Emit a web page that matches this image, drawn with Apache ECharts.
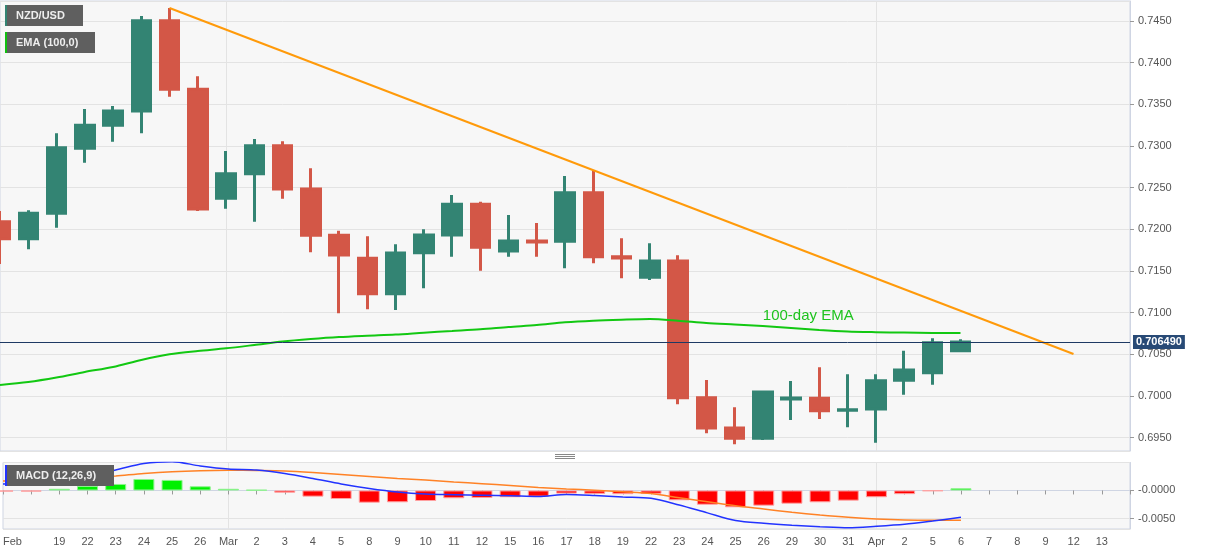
<!DOCTYPE html>
<html>
<head>
<meta charset="utf-8">
<script src="https://cdn.jsdelivr.net/npm/echarts@6/dist/echarts.min.js"></script>
<style>
html,body{margin:0;padding:0;background:#fff;}
#chart{width:1207px;height:555px;}
</style>
</head>
<body>
<div id="chart"></div>
<script>
// ---- data ----
const xLabels = ['Feb','','19','22','23','24','25','26','Mar','2','3','4','5','8','9','10','11','12','15','16','17','18','19','22','23','24','25','26','29','30','31','Apr','2','5','6','7','8','9','12','13',''];

const open  = [0.72092,0.71888,0.72192,0.72972,0.73248,0.73420,0.74504,0.73680,0.72372,0.72668,0.73004,0.72484,0.71928,0.71652,0.71228,0.71720,0.71932,0.72300,0.71740,0.71860,0.71856,0.72440,0.71672,0.71424,0.71620,0.69980,0.69616,0.69492,0.69964,0.69972,0.69828,0.69844,0.70188,0.70280,0.70544];
const close = [0.71888,0.72192,0.72980,0.73248,0.73420,0.74504,0.73680,0.72244,0.72668,0.73004,0.72484,0.71928,0.71692,0.71228,0.71716,0.71932,0.72300,0.71784,0.71860,0.71848,0.72440,0.71672,0.71656,0.71620,0.69980,0.69616,0.69492,0.70048,0.69976,0.69824,0.69836,0.70184,0.70312,0.70640,0.70649];
const low   = [0.71584,0.71760,0.72020,0.72800,0.73052,0.73152,0.73592,0.72220,0.72248,0.72092,0.72368,0.71724,0.70992,0.71040,0.71032,0.71292,0.71672,0.71504,0.71672,0.71672,0.71532,0.71592,0.71412,0.71392,0.69900,0.69552,0.69420,0.69472,0.69712,0.69724,0.69624,0.69440,0.70016,0.70136,0.70544];
const high  = [0.72220,0.72228,0.73152,0.73444,0.73480,0.74560,0.74656,0.73836,0.72940,0.73084,0.73056,0.72732,0.71984,0.71916,0.71820,0.72000,0.72412,0.72332,0.72172,0.72076,0.72640,0.72704,0.71892,0.71832,0.71688,0.70192,0.69864,0.70048,0.70180,0.70344,0.70260,0.70260,0.70544,0.70692,0.70680];

const ema100 = [0.70132,0.70168,0.70222,0.70288,0.70348,0.70432,0.70500,0.70540,0.70572,0.70612,0.70654,0.70684,0.70708,0.70724,0.70738,0.70760,0.70780,0.70800,0.70828,0.70852,0.70884,0.70904,0.70916,0.70924,0.70904,0.70876,0.70858,0.70840,0.70816,0.70792,0.70774,0.70766,0.70761,0.70757,0.70756];

const trendIdx = [6, 38];
const trendVal = [0.74656, 0.70504];

const lastPrice = 0.70649;
const emaLabelIdx = 29;

const macdLine   = [0.00116,0.00134,0.00188,0.00259,0.00366,0.00482,0.00514,0.00438,0.00384,0.00366,0.00304,0.00214,0.00116,0.00036,-0.00027,-0.00063,-0.00075,-0.00084,-0.00093,-0.00107,-0.00071,-0.00089,-0.00116,-0.00139,-0.00259,-0.00400,-0.00536,-0.00586,-0.00621,-0.00646,-0.00664,-0.00639,-0.00604,-0.00545,-0.00479];
const signalLine = [0.00170,0.00179,0.00196,0.00223,0.00259,0.00304,0.00336,0.00354,0.00361,0.00357,0.00348,0.00321,0.00286,0.00250,0.00214,0.00188,0.00152,0.00120,0.00089,0.00054,0.00027,0.00004,-0.00023,-0.00054,-0.00129,-0.00200,-0.00271,-0.00330,-0.00389,-0.00438,-0.00479,-0.00509,-0.00527,-0.00532,-0.00532];
const histogram  = [-0.0002,-0.0002,0.0003,0.0008,0.00116,0.00205,0.00188,0.00075,0.0003,0.0001,-0.0004,-0.0011,-0.00152,-0.00218,-0.00211,-0.00188,-0.00139,-0.00134,-0.00121,-0.0011,-0.00055,-0.0006,-0.00066,-0.0006,-0.00175,-0.00254,-0.003,-0.00271,-0.00236,-0.00211,-0.00182,-0.00121,-0.00066,-0.0001,0.0004];

// ---- build ----
const FONT = 'Liberation Sans, Arial, sans-serif';
const candleData = open.map((o, i) => [o, close[i], low[i], high[i]]);
const monthIdx = xLabels.map((l, i) => (l === 'Mar' || l === 'Apr') ? i : -1).filter(i => i >= 0);
const trendData = trendIdx.map((x, i) => [x, trendVal[i]]);
const histData = histogram.map(v => ({
  value: v,
  itemStyle: { color: v >= 0 ? '#00f000' : '#ff0000', borderColor: v >= 0 ? '#8ef28e' : '#ffa0a0', borderWidth: 1 }
}));

const chart = echarts.init(document.getElementById('chart'), null, { renderer: 'canvas' });

function legendBox(x, y, w, barColor, text) {
  return {
    type: 'group', z: 100,
    children: [
      { type: 'rect', shape: { x: x, y: y, width: w, height: 21 }, style: { fill: '#5f5f5f' }, z: 100 },
      { type: 'rect', shape: { x: x, y: y, width: 2, height: 21 }, style: { fill: barColor }, z: 101 },
      { type: 'text', x: x + 11, y: y + 11, style: { text: text, fill: '#eeeeee', font: 'bold 11px ' + FONT, verticalAlign: 'middle', align: 'left' }, z: 101 }
    ]
  };
}

const option = {
  animation: false,
  backgroundColor: '#ffffff',
  textStyle: { fontFamily: FONT },
  grid: [
    { left: 0, right: 77, top: 1, height: 450, show: true, backgroundColor: '#f7f7f7', borderColor: '#cfd5e3', borderWidth: 1 },
    { left: 0, right: 77, top: 462.5, height: 66.5, show: true, backgroundColor: '#f7f7f7', borderColor: '#cfd5e3', borderWidth: 1 }
  ],
  xAxis: [
    {
      type: 'category', gridIndex: 0, data: xLabels, boundaryGap: false,
      axisLine: { show: false }, axisTick: { show: false }, axisLabel: { show: false },
      splitLine: { show: true, interval: (i) => monthIdx.includes(i), lineStyle: { color: '#e3e3e3' } }
    },
    {
      type: 'category', gridIndex: 1, data: xLabels, boundaryGap: false,
      axisLine: { show: true, lineStyle: { color: '#cfd5e3' } },
      axisTick: { show: true, interval: 0, length: 4, lineStyle: { color: '#999' } },
      axisLabel: { interval: 0, color: '#555', fontSize: 11, margin: 7, fontFamily: FONT, alignMinLabel: 'left' },
      splitLine: { show: true, interval: (i) => monthIdx.includes(i), lineStyle: { color: '#e3e3e3' } }
    }
  ],
  yAxis: [
    {
      type: 'value', gridIndex: 0, position: 'right', min: 0.6934, max: 0.7474, splitNumber: 10,
      axisLine: { show: true, lineStyle: { color: '#cfd5e3' } },
      axisTick: { show: true, length: 4, lineStyle: { color: '#999' } },
      axisLabel: { color: '#555', fontSize: 11, margin: 8, fontFamily: FONT, showMinLabel: false, showMaxLabel: false, formatter: v => v.toFixed(4) },
      splitLine: { show: true, lineStyle: { color: '#e3e3e3' } }
    },
    {
      type: 'value', gridIndex: 1, position: 'right', min: -0.006875, max: 0.00499, splitNumber: 2,
      axisLine: { show: true, lineStyle: { color: '#cfd5e3' } },
      axisTick: { show: true, length: 4, lineStyle: { color: '#999' } },
      axisLabel: { color: '#555', fontSize: 11, margin: 8, fontFamily: FONT, showMinLabel: false, showMaxLabel: false,
        formatter: v => Math.abs(v) < 1e-9 ? '-0.0000' : v.toFixed(4) },
      splitLine: { show: true, lineStyle: { color: '#e3e3e3' } }
    }
  ],
  series: [
    {
      type: 'candlestick', name: 'NZD/USD', xAxisIndex: 0, yAxisIndex: 0, data: candleData,
      barWidth: 19, clip: false, z: 2,
      itemStyle: { color: '#338473', color0: '#d35747', borderColor: '#338473', borderColor0: '#d35747', borderWidth: 3 }
    },
    {
      type: 'line', name: 'EMA', xAxisIndex: 0, yAxisIndex: 0, data: ema100, showSymbol: false, smooth: 0.3, z: 4,
      lineStyle: { color: '#12c812', width: 2 }, symbol: 'none',
      markPoint: {
        silent: true, symbol: 'circle', symbolSize: 1, itemStyle: { color: 'rgba(0,0,0,0)' },
        label: { show: true, position: 'top', distance: 6, offset: [-11, 0], formatter: '100-day EMA', color: '#1fc31f', fontSize: 15, fontFamily: FONT },
        data: [{ coord: [emaLabelIdx, ema100[emaLabelIdx]] }]
      }
    },
    {
      type: 'line', name: 'trend', xAxisIndex: 0, yAxisIndex: 0, data: trendData, showSymbol: false, symbol: 'none', z: 4,
      lineStyle: { color: '#ff9a0a', width: 2 },
      markLine: {
        silent: true, symbol: 'none', animation: false, precision: 6,
        lineStyle: { color: '#1e3a64', width: 1, type: 'solid' },
        label: { show: true, position: 'end', distance: 3, formatter: lastPrice.toFixed(6), color: '#ffffff', fontWeight: 'bold',
          fontSize: 11, fontFamily: FONT, backgroundColor: '#284a76', padding: [2, 3, 1, 3] },
        data: [{ yAxis: lastPrice }]
      }
    },
    {
      type: 'bar', name: 'hist', xAxisIndex: 1, yAxisIndex: 1, data: histData, barWidth: 21, z: 2
    },
    {
      type: 'line', name: 'signal', xAxisIndex: 1, yAxisIndex: 1, data: signalLine, showSymbol: false, symbol: 'none', smooth: 0.3, z: 3,
      lineStyle: { color: '#ff8226', width: 1.5 }
    },
    {
      type: 'line', name: 'macd', xAxisIndex: 1, yAxisIndex: 1, data: macdLine, showSymbol: false, symbol: 'none', smooth: 0.3, z: 3,
      lineStyle: { color: '#2233ff', width: 1.5 }
    }
  ],
  graphic: [
    legendBox(5, 5, 78, '#338473', 'NZD/USD'),
    legendBox(5, 32, 90, '#10c010', 'EMA (100,0)'),
    legendBox(5, 465, 109, '#2233ff', 'MACD (12,26,9)'),
    { type: 'line', shape: { x1: 555, y1: 454.5, x2: 575, y2: 454.5 }, style: { stroke: '#888', lineWidth: 1 } },
    { type: 'line', shape: { x1: 555, y1: 456.5, x2: 575, y2: 456.5 }, style: { stroke: '#888', lineWidth: 1 } },
    { type: 'line', shape: { x1: 555, y1: 458.5, x2: 575, y2: 458.5 }, style: { stroke: '#888', lineWidth: 1 } }
  ]
};
chart.setOption(option);
</script>
</body>
</html>
